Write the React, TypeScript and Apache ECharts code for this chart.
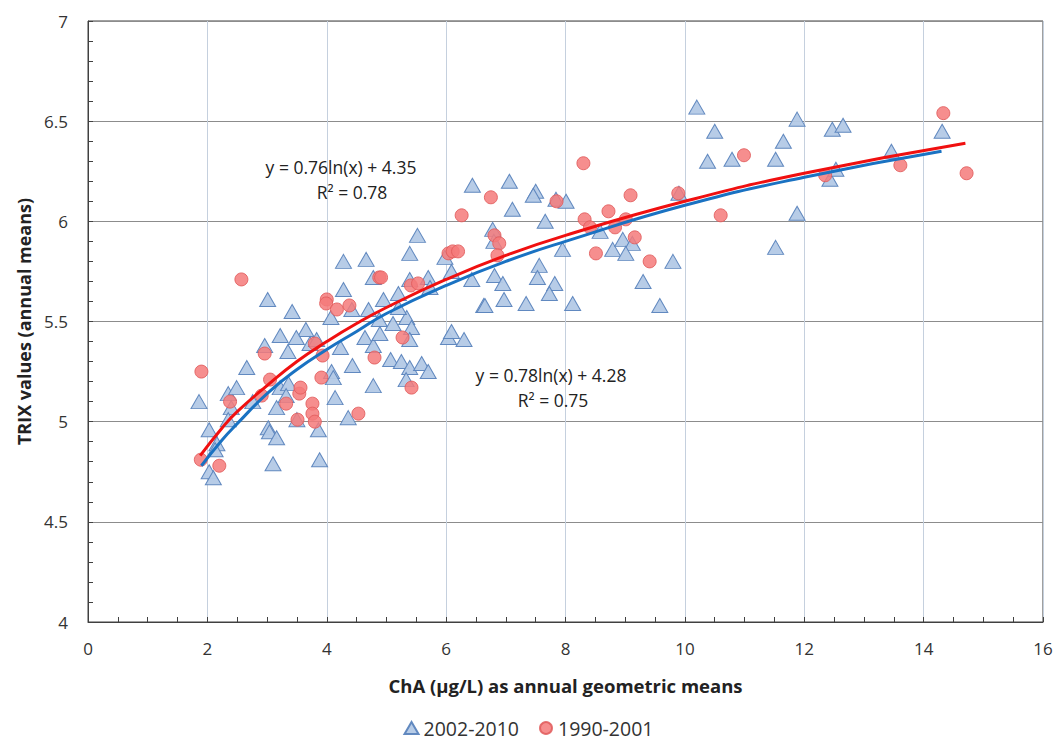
import React, { useEffect, useRef } from "react";
import * as echarts from "echarts";

const seriesNames = ["2002-2010", "1990-2001"];

const triangles2002: number[][] = [
  [1.86, 5.1], [2.03, 4.96], [2.16, 4.89], [2.13, 4.86], [2.03, 4.75], [2.1, 4.72], [2.35, 5.14], [2.49, 5.17],
  [2.4, 5.07], [2.35, 5.01], [2.66, 5.27], [2.76, 5.1], [3.01, 5.61], [2.96, 5.38], [3.22, 5.43], [3.35, 5.35],
  [3.42, 5.55], [3.65, 5.46], [3.49, 5.42], [3.72, 5.39], [3.83, 5.41], [4.23, 5.37], [4.28, 5.8], [4.66, 5.81],
  [4.78, 5.72], [4.28, 5.66], [4.07, 5.52], [4.42, 5.56], [4.7, 5.56], [4.64, 5.42], [4.78, 5.38], [4.43, 5.28],
  [4.08, 5.25], [4.11, 5.22], [4.78, 5.18], [4.14, 5.12], [4.36, 5.02], [3.88, 4.81], [3.86, 4.96], [3.1, 4.79],
  [3.02, 4.97], [3.04, 4.95], [3.16, 4.92], [3.16, 5.07], [3.22, 5.17], [3.36, 5.19], [3.32, 5.13], [3.5, 5.01],
  [5.52, 5.93], [5.39, 5.84], [4.95, 5.61], [5.2, 5.64], [5.39, 5.71], [5.7, 5.72], [5.73, 5.67], [5.98, 5.82],
  [6.09, 5.75], [6.43, 5.71], [6.63, 5.58], [4.88, 5.51], [4.89, 5.44], [5.11, 5.49], [5.34, 5.52], [5.2, 5.57],
  [5.42, 5.47], [5.39, 5.41], [6.04, 5.42], [6.09, 5.45], [6.3, 5.41], [5.07, 5.31], [5.25, 5.3], [5.39, 5.27],
  [5.59, 5.29], [5.7, 5.25], [5.33, 5.21],
  [6.44, 6.18], [7.06, 6.2], [7.5, 6.15], [7.46, 6.13], [7.11, 6.06], [7.84, 6.11], [8.01, 6.1], [7.66, 6.0],
  [6.78, 5.96], [6.8, 5.9], [6.81, 5.73], [6.95, 5.69], [7.56, 5.78], [7.53, 5.72], [7.82, 5.69], [7.73, 5.64],
  [7.95, 5.86], [6.65, 5.58], [6.97, 5.61], [7.34, 5.59], [8.12, 5.59], [8.58, 5.95], [8.79, 5.86],
  [10.2, 6.57], [10.5, 6.45], [10.38, 6.3], [10.79, 6.31], [11.88, 6.51], [11.65, 6.4], [11.52, 6.31], [12.47, 6.46],
  [12.65, 6.48], [12.43, 6.21], [12.53, 6.26], [11.88, 6.04], [11.52, 5.87], [9.9, 6.14], [9.8, 5.8], [9.58, 5.58],
  [9.3, 5.7], [8.96, 5.91], [9.12, 5.89], [9.01, 5.84], [14.31, 6.45], [13.46, 6.35],
];

const circles1990: number[][] = [
  [2.57, 5.71], [1.9, 5.25], [1.89, 4.81], [2.2, 4.78], [2.38, 5.1], [2.96, 5.34], [3.05, 5.21], [2.91, 5.13],
  [3.32, 5.09], [3.54, 5.14], [3.56, 5.17], [3.51, 5.01], [3.76, 5.09], [3.76, 5.04], [3.8, 5.0], [3.91, 5.22],
  [3.93, 5.33], [3.8, 5.39], [4.0, 5.61], [3.99, 5.59], [4.17, 5.56], [4.38, 5.58], [4.53, 5.04], [4.8, 5.32],
  [4.88, 5.72], [4.91, 5.72], [6.26, 6.03], [6.04, 5.84], [6.11, 5.85], [6.2, 5.85], [5.41, 5.68], [5.53, 5.69],
  [5.27, 5.42], [5.42, 5.17], [8.3, 6.29], [6.75, 6.12], [7.85, 6.1], [6.81, 5.93], [6.89, 5.89], [6.86, 5.83],
  [8.32, 6.01], [8.41, 5.97], [8.72, 6.05], [8.83, 5.97], [8.51, 5.84], [10.99, 6.33], [9.89, 6.14], [9.09, 6.13],
  [9.16, 5.92], [9.41, 5.8], [10.6, 6.03], [12.35, 6.23], [9.01, 6.01], [14.33, 6.54], [14.72, 6.24], [13.61, 6.28],
];

// trend lines
const trend2002: number[][] = [
  [1.9, 4.78], [2.25, 4.91], [2.5, 4.99], [3, 5.14], [3.5, 5.26], [4, 5.36], [4.5, 5.45], [5, 5.54], [6, 5.68],
  [7, 5.8], [8, 5.9], [10, 6.08], [12, 6.22], [14.3, 6.35],
];
const trend1990: number[][] = [
  [1.88, 4.83], [2.25, 4.97], [2.5, 5.05], [3, 5.18], [3.5, 5.3], [4, 5.4], [4.5, 5.49], [5, 5.57], [6, 5.71],
  [7, 5.83], [8, 5.93], [10, 6.1], [12, 6.24], [14.7, 6.39],
];

const eq1990 = ["y = 0.76ln(x) + 4.35", "R² = 0.78"];
const eq2002 = ["y = 0.78ln(x) + 4.28", "R² = 0.75"];

const FONT = "'Open Sans', 'Noto Sans', sans-serif";

export default function App() {
  const ref = useRef<HTMLDivElement>(null);
  useEffect(() => {
    if (!ref.current) return;
    const chart = echarts.init(ref.current, null, { renderer: "svg" });
    const txt = (x: number, y: number, s: string) => ({
      type: "text",
      x,
      y,
      style: { text: s, fill: "#222", font: `17.5px ${FONT}`, align: "center", verticalAlign: "middle" },
      z: 100,
    });
    chart.setOption({
      animation: false,
      backgroundColor: "#ffffff",
      textStyle: { fontFamily: FONT },
      grid: { left: 88, right: 14, top: 21, bottom: 118, show: true, borderColor: "#404040", borderWidth: 1 },
      xAxis: {
        type: "value",
        min: 0,
        max: 16,
        interval: 2,
        name: "ChA (µg/L) as annual geometric means",
        nameLocation: "middle",
        nameGap: 54,
        nameTextStyle: { fontSize: 18.5, fontWeight: "bold", color: "#222", fontFamily: FONT },
        axisLine: { lineStyle: { color: "#404040", width: 1 } },
        axisTick: { inside: true, length: 5, lineStyle: { color: "#404040" } },
        minorTick: { show: true, splitNumber: 4, length: 5, lineStyle: { color: "#404040" } },
        axisLabel: { fontSize: 17, color: "#333", margin: 18, fontFamily: FONT },
        splitLine: { show: true, lineStyle: { color: "#c5d0de", width: 1 } },
      },
      yAxis: {
        type: "value",
        min: 4,
        max: 7,
        interval: 0.5,
        name: "TRIX values (annual means)",
        nameLocation: "middle",
        nameGap: 55,
        nameTextStyle: { fontSize: 18, fontWeight: "bold", color: "#222", fontFamily: FONT },
        axisLine: { show: true, lineStyle: { color: "#404040", width: 1 } },
        axisTick: { show: true, inside: true, length: 5, lineStyle: { color: "#404040" } },
        minorTick: { show: true, splitNumber: 5, length: 5, lineStyle: { color: "#404040" } },
        axisLabel: { fontSize: 17, color: "#333", margin: 20, fontFamily: FONT },
        splitLine: { show: true, lineStyle: { color: "#8c8c8c", width: 1 } },
      },
      legend: {
        bottom: 0,
        left: "center",
        padding: [2, 5, 2, 5],
        data: seriesNames,
        itemWidth: 14,
        itemHeight: 12,
        itemGap: 20,
        textStyle: { fontSize: 19.5, color: "#333", fontFamily: FONT },
      },
      graphic: [
        txt(341, 167, eq1990[0]),
        txt(352, 192, eq1990[1]),
        txt(551, 375, eq2002[0]),
        txt(553, 400, eq2002[1]),
      ],
      series: [
        {
          name: seriesNames[0],
          type: "scatter",
          symbol: "triangle",
          symbolSize: [16, 14],
          data: triangles2002,
          itemStyle: { color: "#b3c9e6", borderColor: "#5b84bd", borderWidth: 1, opacity: 0.95 },
          z: 2,
        },
        {
          name: seriesNames[1],
          type: "scatter",
          symbol: "circle",
          symbolSize: 13,
          data: circles1990,
          itemStyle: { color: "#f47a7a", borderColor: "#e05a5a", borderWidth: 1, opacity: 0.85 },
          z: 3,
        },
        {
          name: "trend 2002-2010",
          type: "line",
          data: trend2002,
          smooth: true,
          showSymbol: false,
          symbol: "none",
          lineStyle: { color: "#1a72c2", width: 3 },
          z: 4,
        },
        {
          name: "trend 1990-2001",
          type: "line",
          data: trend1990,
          smooth: true,
          showSymbol: false,
          symbol: "none",
          lineStyle: { color: "#f01010", width: 3 },
          z: 5,
        },
      ],
    });
    return () => chart.dispose();
  }, []);
  return <div ref={ref} style={{ position: "absolute", left: 0, top: 0, width: 1057, height: 740 }} />;
}
